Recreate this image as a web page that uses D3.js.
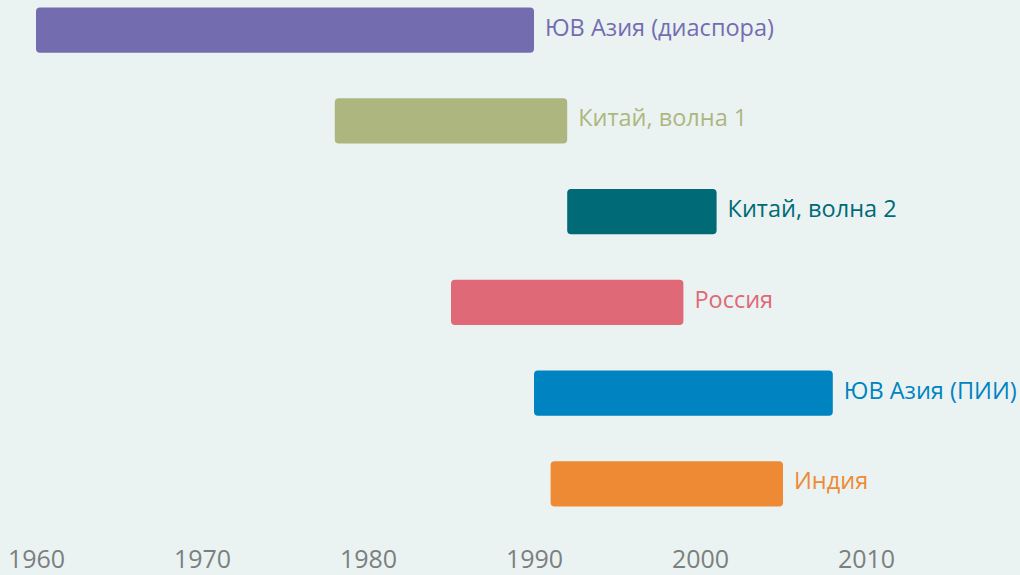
<!DOCTYPE html>
<html>
<head>
<meta charset="utf-8">
<script src="https://cdn.jsdelivr.net/npm/d3@7"></script>
<style>
  html,body{margin:0;padding:0;background:#eaf3f2;}
  svg{display:block;font-family:"Open Sans","Noto Sans",sans-serif;}
</style>
</head>
<body>
<div id="chart"></div>
<script>
const names=["ЮВ Азия (диаспора)","Китай, волна 1","Китай, волна 2","Россия","ЮВ Азия (ПИИ)","Индия"];
const starts=[1960,1978,1992,1985,1990,1991];
const ends=[1990,1992,2001,1999,2008,2005];
const colors=["#736db0","#aeb67f","#006a76","#e06977","#0083c1","#ee8a33"];
const ticks=[1960,1970,1980,1990,2000,2010];

(function(){
  const W=1020,H=575;
  const data=names.map((n,i)=>({name:n,start:starts[i],end:ends[i],color:colors[i]}));
  const svg=d3.select("#chart").append("svg").attr("width",W).attr("height",H);
  svg.append("rect").attr("width",W).attr("height",H).attr("fill","#eaf3f2");

  const x=d3.scaleLinear().domain([1960,2010]).range([36,866]);
  const y=d3.scaleBand().domain(names).range([7.5,506.5]).paddingInner(0.5).paddingOuter(0);

  // year labels only: no domain line, no tick marks
  svg.append("g").attr("transform","translate(0,550)")
    .call(d3.axisBottom(x).tickValues(ticks).tickFormat(d3.format("d")).tickSize(0).tickPadding(0))
    .call(s=>s.select(".domain").remove())
    .call(s=>s.selectAll("text").attr("dy","0.71em").attr("font-size",25)
      .attr("font-family","'Open Sans','Noto Sans',sans-serif").attr("fill","#7b807f"));

  svg.selectAll(".bar").data(data).join("rect")
    .attr("x",d=>x(d.start))
    .attr("y",d=>y(d.name))
    .attr("width",d=>x(d.end)-x(d.start))
    .attr("height",y.bandwidth())
    .attr("rx",4)
    .attr("fill",d=>d.color);

  svg.selectAll(".lbl").data(data).join("text")
    .attr("x",d=>x(d.end)+11)
    .attr("y",d=>y(d.name)+y.bandwidth()/2+5.5)
    .attr("font-size",23.5)
    .attr("fill",d=>d.color)
    .text(d=>d.name);
})();
</script>
</body>
</html>
